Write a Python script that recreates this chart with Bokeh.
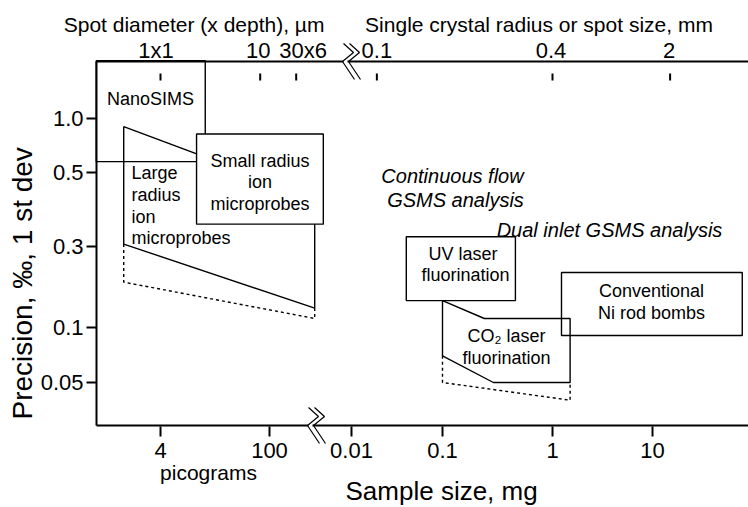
import numpy as np
from bokeh.plotting import figure
from bokeh.models import Range1d, ColumnDataSource
from bokeh.core.properties import value
from bokeh.embed import file_html
from bokeh.resources import INLINE

FONT = "Liberation Sans"

# ---------------- axis data ----------------
pg_ticks = [4, 100]                      # picograms (left of the break)
mg_ticks = [0.01, 0.1, 1, 10]            # milligrams (right of the break)
bottom_labels = ["4", "100", "0.01", "0.1", "1", "10"]
pg_tick_pos = [64, 173]                  # schematic axis positions
mg_tick_pos = [255, 346, 456, 556]
break_mg = 1e-5

top_labels = ["1x1", "10", "30x6", "0.1", "0.4", "2"]
top_equiv_mg = [4e-9, 7.6e-8, 2.2e-7, 0.019, 1.0, 15]   # equivalent sample size
top_label_dx = [-4.5, -2, 7, 0, -1.5, -1]

prec_ticks = [1.0, 0.5, 0.3, 0.1, 0.05]
prec_labels = ["1.0", "0.5", "0.3", "0.1", "0.05"]
prec_tick_pos = [307, 253, 179, 98, 43]

# ---------------- method fields (sample size in mg, precision in per mil) ----------------
nanosims_mg = [0.6e-9, 15e-9]
nanosims_prec = [0.575, 2.1]
large_mg = [1.35e-9, 3.8e-7, 3.8e-7, 1.35e-9]
large_prec = [0.9, 0.42, 0.13, 0.305]
large_ext_mg = [1.35e-9, 1.35e-9, 3.8e-7, 3.8e-7]
large_ext_prec = [0.305, 0.185, 0.113, 0.13]
small_mg = [11.6e-9, 4.9e-7]
small_prec = [0.35, 0.82]
uv_mg = [0.040, 0.46]
uv_prec = [0.144, 0.321]
co2_mg = [0.1, 0.24, 1.5, 1.5, 0.29, 0.1]
co2_prec = [0.144, 0.113, 0.113, 0.05, 0.05, 0.070]
co2_ext_mg = [0.1, 0.1, 1.5, 1.5]
co2_ext_prec = [0.070, 0.05, 0.040, 0.05]
ni_mg = [1.23, 79]
ni_prec = [0.0904, 0.211]


def xpos(mg):
    mg = np.asarray(mg, float)
    lg = np.log10(mg)
    lp = np.log10(np.array(pg_ticks, float) * 1e-9)
    sp = (pg_tick_pos[1] - pg_tick_pos[0]) / (lp[1] - lp[0])
    left = pg_tick_pos[0] + sp * (lg - lp[0])
    lm = np.log10(np.array(mg_ticks, float))
    pm = np.array(mg_tick_pos, float)
    right = np.interp(lg, lm, pm)
    s0 = (pm[1] - pm[0]) / (lm[1] - lm[0])
    s1 = (pm[-1] - pm[-2]) / (lm[-1] - lm[-2])
    right = np.where(lg < lm[0], pm[0] + s0 * (lg - lm[0]), right)
    right = np.where(lg > lm[-1], pm[-1] + s1 * (lg - lm[-1]), right)
    return np.where(mg < break_mg, left, right)


def ypos(prec):
    lg = np.log10(np.asarray(prec, float))
    lt = np.log10(np.array(prec_ticks, float))[::-1]
    pt = np.array(prec_tick_pos, float)[::-1]
    out = np.interp(lg, lt, pt)
    s0 = (pt[1] - pt[0]) / (lt[1] - lt[0])
    s1 = (pt[-1] - pt[-2]) / (lt[-1] - lt[-2])
    out = np.where(lg < lt[0], pt[0] + s0 * (lg - lt[0]), out)
    out = np.where(lg > lt[-1], pt[-1] + s1 * (lg - lt[-1]), out)
    return out


# plotting area: x 0..X_END, y 0..Y_TOP (axis units); canvas margins around it
X_END, Y_TOP = 652, 364
p = figure(width=748, height=507, x_range=Range1d(-96, X_END), y_range=Range1d(-82, 425),
           output_backend="svg", toolbar_location=None,
           x_axis_location=None, y_axis_location=None, min_border=0)
p.min_border_left = p.min_border_right = p.min_border_top = p.min_border_bottom = 0
p.outline_line_color = None
p.grid.visible = False
p.background_fill_color = "white"
p.border_fill_color = "white"

K = "black"

# ---------- axes (broken schematic axes) ----------
yt = ypos(prec_ticks)
xb = xpos(list(np.array(pg_ticks) * 1e-9) + mg_ticks)
xtp = xpos(top_equiv_mg)

p.segment(x0=[0, 0, 0], y0=[0, 0, Y_TOP], x1=[0, X_END, X_END], y1=[Y_TOP, 0, Y_TOP],
          line_color=K, line_width=2)
p.segment(x0=[-10] * len(yt), x1=[0] * len(yt), y0=yt, y1=yt, line_color=K, line_width=2)
p.segment(x0=xb, x1=xb, y0=[-1] * len(xb), y1=[-11] * len(xb), line_color=K, line_width=2)
p.segment(x0=xtp, x1=xtp, y0=[Y_TOP - 12] * len(xtp), y1=[Y_TOP - 19] * len(xtp),
          line_color=K, line_width=2)


def add_text(xs, ys, texts, align="center", size="18px", style="normal",
             baseline="middle", angle=0.0):
    src = ColumnDataSource(dict(x=list(xs), y=list(ys), t=list(texts)))
    p.text(x="x", y="y", text="t", source=src, text_align=align, text_baseline=baseline,
           angle=angle, text_font=value(FONT), text_font_size=value(size),
           text_font_style=style, text_color=K)


# tick labels
add_text([-13] * len(yt), yt, prec_labels, align="right", size="22px")
add_text(xb, [-24.5] * len(xb), bottom_labels, size="22px")
add_text(xtp + np.array(top_label_dx), [375.5] * len(xtp), top_labels, size="22px")

# axis titles
add_text([100.5], [401], ["Spot diameter (x depth),  \u00b5m"], size="21px")
add_text([442.5], [401], ["Single crystal radius or spot size, mm"], size="21px")
add_text([-74], [6], ["Precision, \u2030, 1 st dev"], size="28px", align="left", angle=np.pi / 2)
add_text([249], [-65], ["Sample size, mg"], size="26px", align="left")
add_text([112], [-47], ["picograms"], size="21px")

# axis break marks
BREAK_SHAPE = [(-7, -18), (3, -9), (-8, 0), (4, 18)]
bxs, bys, wx0, wx1, wy = [], [], [], [], []
for bx, by in ((254, Y_TOP), (219, 0)):
    wx0.append(bx - 7); wx1.append(bx - 3); wy.append(by)
    for shift in (0, 6):
        bxs.append([bx + shift + dx for dx, dy in BREAK_SHAPE])
        bys.append([by - dy for dx, dy in BREAK_SHAPE])
p.segment(x0=wx0, x1=wx1, y0=wy, y1=wy, line_color="white", line_width=3)
p.multi_line(bxs, bys, line_color=K, line_width=1.2)

# ---------- method fields ----------
LW = 1.4
nx, ny = xpos(nanosims_mg), ypos(nanosims_prec)
p.quad(left=[nx[0]], right=[nx[1]], bottom=[ny[0]], top=[ny[1]],
       fill_color=None, line_color=K, line_width=LW)
p.patch(xpos(large_mg), ypos(large_prec), fill_color=None, line_color=K, line_width=LW)
p.line(xpos(large_ext_mg), ypos(large_ext_prec), line_color=K, line_width=LW, line_dash="3 3")
sx, sy = xpos(small_mg), ypos(small_prec)
p.quad(left=[sx[0]], right=[sx[1]], bottom=[sy[0]], top=[sy[1]],
       fill_color="white", line_color=K, line_width=LW)
ux, uy = xpos(uv_mg), ypos(uv_prec)
p.quad(left=[ux[0]], right=[ux[1]], bottom=[uy[0]], top=[uy[1]],
       fill_color="white", line_color=K, line_width=LW)
p.patch(xpos(co2_mg), ypos(co2_prec), fill_color=None, line_color=K, line_width=LW)
p.line(xpos(co2_ext_mg), ypos(co2_ext_prec), line_color=K, line_width=LW, line_dash="3 3")
cx_, cy_ = xpos(ni_mg), ypos(ni_prec)
p.quad(left=[cx_[0]], right=[cx_[1]], bottom=[cy_[0]], top=[cy_[1]],
       fill_color=None, line_color=K, line_width=LW)

# ---------- field labels ----------
add_text([54], [327], ["NanoSIMS"])
add_text([163.5] * 3, [265, 244, 222], ["Small radius", "ion", "microprobes"])
add_text([35] * 4, [253, 231, 209, 188], ["Large", "radius", "ion", "microprobes"], align="left")
add_text([369, 369], [172, 151], ["UV  laser", "fluorination"])
add_text([410, 410], [90, 68], ["CO\u2082 laser", "fluorination"])
add_text([555, 555], [135, 113], ["Conventional", "Ni rod bombs"])
add_text([356, 359], [250, 226], ["Continuous flow", "GSMS analysis"], size="20px", style="italic")
add_text([513], [196], ["Dual inlet GSMS analysis"], size="20px", style="italic")

open("out.html", "w").write(file_html(p, INLINE))
